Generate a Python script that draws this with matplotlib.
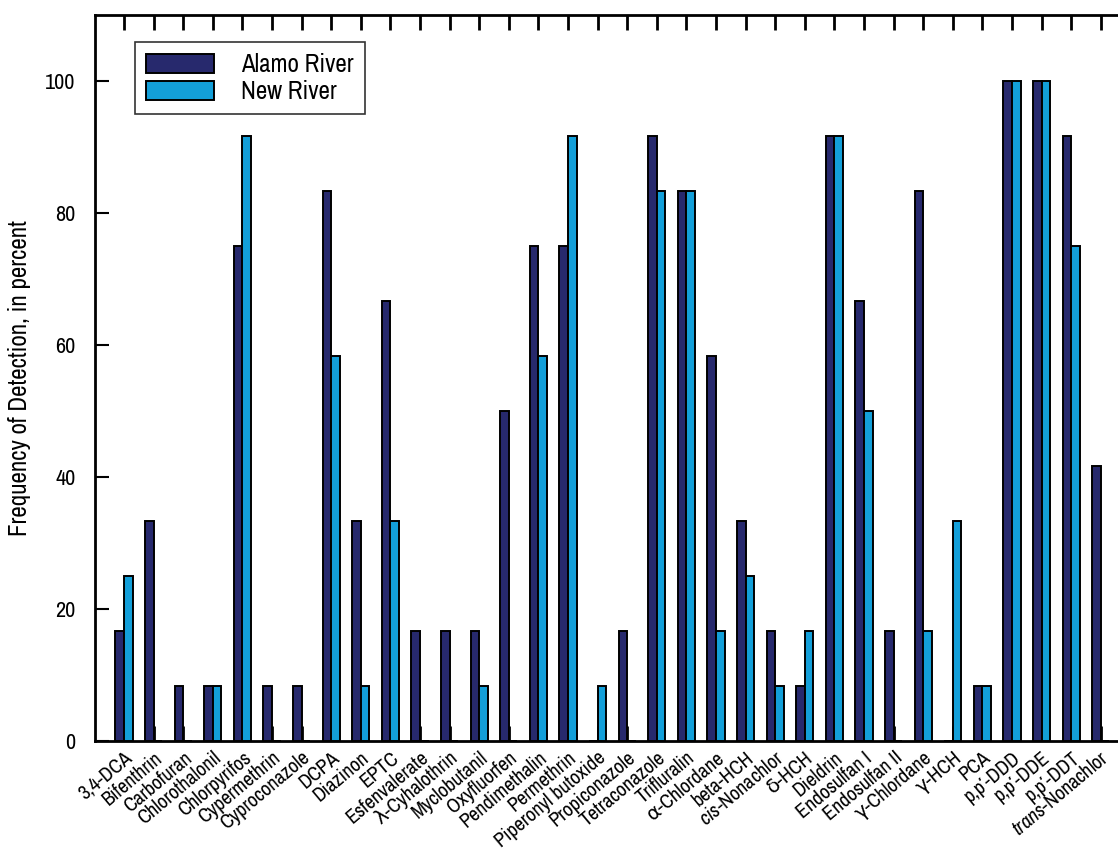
import numpy as np
import matplotlib.pyplot as plt
from matplotlib import font_manager

# prefer a narrow sans face if one is installed
names = sorted({f.name for f in font_manager.fontManager.ttflist})
narrow = [n for n in names if 'Narrow' in n or 'Condensed' in n]
base = narrow[0] if narrow else 'Liberation Sans'
plt.rcParams['font.family'] = [base, 'DejaVu Sans']
plt.rcParams['mathtext.fontset'] = 'custom'
plt.rcParams['mathtext.rm'] = base
plt.rcParams['mathtext.it'] = base + ':italic'

compounds = ['3,4-DCA', 'Bifenthrin', 'Carbofuran', 'Chlorothalonil', 'Chlorpyrifos',
             'Cypermethrin', 'Cyproconazole', 'DCPA', 'Diazinon', 'EPTC',
             'Esfenvalerate', 'λ-Cyhalothrin', 'Myclobutanil', 'Oxyfluorfen',
             'Pendimethalin', 'Permethrin', 'Piperonyl butoxide', 'Propiconazole',
             'Tetraconazole', 'Trifluralin', 'α-Chlordane', 'beta-HCH',
             r'$\it{cis}$-Nonachlor', 'δ-HCH', 'Dieldrin', 'Endosulfan I',
             'Endosulfan II', 'γ-Chlordane', 'γ-HCH', 'PCA', 'p,p′-DDD',
             'p,p′-DDE', 'p,p′-DDT', r'$\it{trans}$-Nonachlor']

alamo = [16.7, 33.3, 8.3, 8.3, 75.0, 8.3, 8.3, 83.3, 33.3, 66.7,
         16.7, 16.7, 16.7, 50.0, 75.0, 75.0, 0.0, 16.7, 91.7, 83.3,
         58.3, 33.3, 16.7, 8.3, 91.7, 66.7, 16.7, 83.3, 0.0, 8.3,
         100.0, 100.0, 91.7, 41.7]
new_river = [25.0, 0.0, 0.0, 8.3, 91.7, 0.0, 0.0, 58.3, 8.3, 33.3,
             0.0, 0.0, 8.3, 0.0, 58.3, 91.7, 8.3, 0.0, 83.3, 83.3,
             16.7, 25.0, 8.3, 16.7, 91.7, 50.0, 0.0, 16.7, 33.3, 8.3,
             100.0, 100.0, 75.0, 0.0]

x = np.arange(len(compounds))
w = 0.29

fig = plt.figure(figsize=(11.18, 8.5), dpi=100)
ax = fig.add_axes([0.085, 0.128, 0.915, 0.854])

ax.bar(x - w / 2, alamo, w, color='#27296d', edgecolor='black', linewidth=1.4,
       label='Alamo River', zorder=3)
ax.bar(x + w / 2, new_river, w, color='#139fd9', edgecolor='black', linewidth=1.4,
       label='New River', zorder=3)

ax.set_xlim(-0.98, 33.58)
ax.set_ylim(0, 110)
ax.set_yticks([0, 20, 40, 60, 80, 100])
ax.set_xticks(x)
ax.set_xticklabels(compounds, rotation=40, ha='right', rotation_mode='anchor',
                   fontsize=14.5)

ax.tick_params(axis='x', direction='in', length=11, width=2, top=True, pad=5)
ax.tick_params(axis='y', direction='in', length=10, width=1.5, labelsize=16, pad=14)

for side in ['left', 'top', 'bottom']:
    ax.spines[side].set_linewidth(2)
ax.spines['right'].set_visible(False)

ax.set_ylabel('Frequency of Detection, in percent', fontsize=18, labelpad=10)

leg = ax.legend(loc='upper left', bbox_to_anchor=(0.039, 0.963), borderaxespad=0,
                fontsize=18, frameon=True, fancybox=False, handlelength=2.7,
                handleheight=0.8, handletextpad=1.1, labelspacing=0.15,
                borderpad=0.45)
leg.get_frame().set_edgecolor('black')
leg.get_frame().set_linewidth(1.2)

fig.savefig('out.png', dpi=100)
